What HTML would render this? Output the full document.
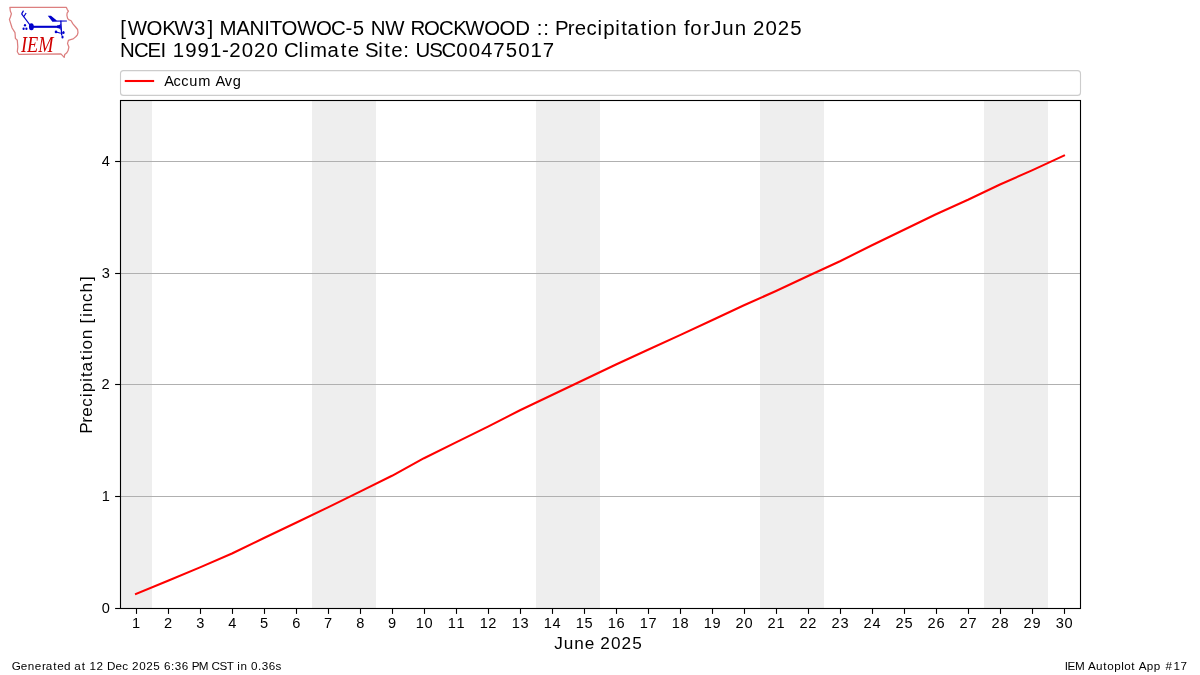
<!DOCTYPE html>
<html><head><meta charset="utf-8"><title>IEM Autoplot 17</title>
<style>
html,body{margin:0;padding:0;background:#fff;}
body{width:1200px;height:675px;overflow:hidden;}
svg{display:block;font-family:"Liberation Sans",sans-serif;will-change:transform;}
</style></head>
<body>
<svg width="1200" height="675" viewBox="0 0 1200 675">
<rect x="0" y="0" width="1200" height="675" fill="#ffffff"/>
<g id="logo">
<path d="M9.9,7.4 L66.4,7.4 L67.3,9.6 L68.4,11.2 L67.1,13.2 L66.9,15.4 L67.6,18.4 L68.6,19.6 L71.1,20.8 L72.9,23.9 L75.6,27 L77.6,29.5 L78,32.5 L77.4,34.8 L76,36.5 L73.2,38.9 L70.5,39.6 L68.4,40.3 L67.5,43.6 L68.9,47 L68,50.8 L66.6,53.1 L64.7,54.6 L64.2,57.4 L60.9,53.8 L18.8,54.3 L17.3,51.7 L17.8,47 L17.3,40.3 L15.4,38.4 L15,32.7 L12.1,28 L9.4,19.4 L10.4,17 L11.4,13.7 L10.3,11 Z" fill="none" stroke="#dc7f7f" stroke-width="1.25" stroke-linejoin="round"/>
<g fill="#0000cc" stroke="#0000cc">
<ellipse cx="31.4" cy="26.8" rx="2.45" ry="3.5" stroke="none"/>
<line x1="31.4" y1="26.8" x2="60.7" y2="26.8" stroke-width="2.1"/>
<path d="M57,25.6 Q60,25.6 60.7,23.5 L60.7,30 Q60,27.9 57,27.9 Z" stroke="none"/>
<line x1="31.4" y1="26.8" x2="21.6" y2="13.9" stroke-width="1.15"/>
<line x1="21.6" y1="13.9" x2="23.5" y2="10.6" stroke-width="1.2"/>
<line x1="23.9" y1="16.5" x2="26.1" y2="13.0" stroke-width="1.2"/>
<ellipse cx="25" cy="25.2" rx="1.1" ry="1.3" stroke="none"/>
<ellipse cx="23.6" cy="28.8" rx="1.1" ry="1.3" stroke="none"/>
<ellipse cx="26.4" cy="28.8" rx="1.1" ry="1.3" stroke="none"/>
<line x1="60.8" y1="20.6" x2="61.7" y2="35.5" stroke-width="1.3"/>
<path d="M47.8,15.7 L51,15.7 L56.8,20.4 L66.8,20.6 L67,21.6 L52.4,21.8 Z" stroke="none"/>
<line x1="56.1" y1="32" x2="60.8" y2="33.3" stroke-width="1.1"/>
<ellipse cx="56" cy="31.9" rx="1.3" ry="1.4" stroke="none"/>
<ellipse cx="63.5" cy="32.6" rx="1.1" ry="1.5" stroke="none"/>
<ellipse cx="62.5" cy="37" rx="1.1" ry="1.5" stroke="none"/>
<line x1="61.2" y1="33.6" x2="63.3" y2="32.6" stroke-width="1"/>
</g>
<text x="21" y="51.7" font-family="Liberation Serif" font-style="italic" font-size="22.7" fill="#d00000" textLength="32.5" lengthAdjust="spacingAndGlyphs">IEM</text>
</g>
<g fill="#000">
<text transform="translate(120.10,35.00)" x="0.20 7.56 26.53 42.12 54.15 73.93 87.48 93.36 99.43 116.15 129.51 144.19 149.60 161.49 177.05 196.02 210.91 225.29 232.63 244.57 250.65 265.27 284.52 290.39 303.93 318.82 333.09 345.12 364.09 379.40 395.13 409.96 416.58 423.13 429.24 434.80 447.78 454.71 466.34 477.47 483.04 495.21 501.09 507.34 520.63 527.78 533.01 545.16 556.95 563.97 570.26 582.85 589.87 591.18 602.23 614.64 626.43 632.86 645.49 657.60 670.15" y="0" font-size="20.42">[WOKW3] MANITOWOC-5 NW ROCKWOOD :: Precipitation for Jun 2025</text>
<text transform="translate(120.10,56.60)" x="-0.10 13.85 27.39 40.44 46.14 52.72 65.14 77.51 89.83 101.91 109.07 121.70 133.81 146.44 158.31 163.79 178.50 183.91 189.89 207.36 220.65 227.69 239.31 244.96 258.28 264.16 271.20 283.27 289.37 295.30 309.25 321.43 336.21 348.58 360.95 373.28 385.62 398.06 410.33 422.76" y="0" font-size="20.42">NCEI 1991-2020 Climate Site: USC00475017</text>
</g>
<rect x="120.5" y="70.6" width="960" height="24.8" rx="3" ry="3" fill="#fff" stroke="#cccccc" stroke-width="1.11"/>
<line x1="125.8" y1="81" x2="153.1" y2="81" stroke="#ff0000" stroke-width="2.08" stroke-linecap="square"/>
<text transform="translate(164.30,85.75)" x="-0.12 9.26 16.90 24.85 34.06 46.86 51.16 60.43 68.45" y="0" font-size="14.58">Accum Avg</text>
<rect x="120" y="100.5" width="960" height="508" fill="#fff"/>
<rect x="120.5" y="100.5" width="31.5" height="508" fill="#eeeeee"/>
<rect x="312.0" y="100.5" width="64.0" height="508" fill="#eeeeee"/>
<rect x="536.0" y="100.5" width="64.0" height="508" fill="#eeeeee"/>
<rect x="760.0" y="100.5" width="64.0" height="508" fill="#eeeeee"/>
<rect x="984.0" y="100.5" width="64.0" height="508" fill="#eeeeee"/>
<line x1="120" y1="161.5" x2="1080" y2="161.5" stroke="#b0b0b0" stroke-width="1.11"/>
<line x1="120" y1="273.5" x2="1080" y2="273.5" stroke="#b0b0b0" stroke-width="1.11"/>
<line x1="120" y1="384.5" x2="1080" y2="384.5" stroke="#b0b0b0" stroke-width="1.11"/>
<line x1="120" y1="496.5" x2="1080" y2="496.5" stroke="#b0b0b0" stroke-width="1.11"/>
<polyline points="136.0,594.0 168.0,580.8 200.0,567.4 232.0,553.5 264.0,538.0 296.0,522.7 328.0,507.4 360.0,491.6 392.0,475.8 424.0,458.2 456.0,442.4 488.0,426.6 520.0,410.2 552.0,395.0 584.0,379.8 616.0,364.5 648.0,349.8 680.0,335.1 712.0,320.3 744.0,305.3 776.0,291.0 808.0,276.0 840.0,261.2 872.0,245.3 904.0,229.8 936.0,214.2 968.0,199.8 1000.0,184.5 1032.0,170.4 1064.0,155.6" fill="none" stroke="#ff0000" stroke-width="2.08" stroke-linejoin="round" stroke-linecap="square"/>
<rect x="120.5" y="100.5" width="960" height="508" fill="none" stroke="#000" stroke-width="1.11"/>
<line x1="136.5" y1="608.5" x2="136.5" y2="613.9" stroke="#000" stroke-width="1.11"/>
<line x1="168.5" y1="608.5" x2="168.5" y2="613.9" stroke="#000" stroke-width="1.11"/>
<line x1="200.5" y1="608.5" x2="200.5" y2="613.9" stroke="#000" stroke-width="1.11"/>
<line x1="232.5" y1="608.5" x2="232.5" y2="613.9" stroke="#000" stroke-width="1.11"/>
<line x1="264.5" y1="608.5" x2="264.5" y2="613.9" stroke="#000" stroke-width="1.11"/>
<line x1="296.5" y1="608.5" x2="296.5" y2="613.9" stroke="#000" stroke-width="1.11"/>
<line x1="328.5" y1="608.5" x2="328.5" y2="613.9" stroke="#000" stroke-width="1.11"/>
<line x1="360.5" y1="608.5" x2="360.5" y2="613.9" stroke="#000" stroke-width="1.11"/>
<line x1="392.5" y1="608.5" x2="392.5" y2="613.9" stroke="#000" stroke-width="1.11"/>
<line x1="424.5" y1="608.5" x2="424.5" y2="613.9" stroke="#000" stroke-width="1.11"/>
<line x1="456.5" y1="608.5" x2="456.5" y2="613.9" stroke="#000" stroke-width="1.11"/>
<line x1="488.5" y1="608.5" x2="488.5" y2="613.9" stroke="#000" stroke-width="1.11"/>
<line x1="520.5" y1="608.5" x2="520.5" y2="613.9" stroke="#000" stroke-width="1.11"/>
<line x1="552.5" y1="608.5" x2="552.5" y2="613.9" stroke="#000" stroke-width="1.11"/>
<line x1="584.5" y1="608.5" x2="584.5" y2="613.9" stroke="#000" stroke-width="1.11"/>
<line x1="616.5" y1="608.5" x2="616.5" y2="613.9" stroke="#000" stroke-width="1.11"/>
<line x1="648.5" y1="608.5" x2="648.5" y2="613.9" stroke="#000" stroke-width="1.11"/>
<line x1="680.5" y1="608.5" x2="680.5" y2="613.9" stroke="#000" stroke-width="1.11"/>
<line x1="712.5" y1="608.5" x2="712.5" y2="613.9" stroke="#000" stroke-width="1.11"/>
<line x1="744.5" y1="608.5" x2="744.5" y2="613.9" stroke="#000" stroke-width="1.11"/>
<line x1="776.5" y1="608.5" x2="776.5" y2="613.9" stroke="#000" stroke-width="1.11"/>
<line x1="808.5" y1="608.5" x2="808.5" y2="613.9" stroke="#000" stroke-width="1.11"/>
<line x1="840.5" y1="608.5" x2="840.5" y2="613.9" stroke="#000" stroke-width="1.11"/>
<line x1="872.5" y1="608.5" x2="872.5" y2="613.9" stroke="#000" stroke-width="1.11"/>
<line x1="904.5" y1="608.5" x2="904.5" y2="613.9" stroke="#000" stroke-width="1.11"/>
<line x1="936.5" y1="608.5" x2="936.5" y2="613.9" stroke="#000" stroke-width="1.11"/>
<line x1="968.5" y1="608.5" x2="968.5" y2="613.9" stroke="#000" stroke-width="1.11"/>
<line x1="1000.5" y1="608.5" x2="1000.5" y2="613.9" stroke="#000" stroke-width="1.11"/>
<line x1="1032.5" y1="608.5" x2="1032.5" y2="613.9" stroke="#000" stroke-width="1.11"/>
<line x1="1064.5" y1="608.5" x2="1064.5" y2="613.9" stroke="#000" stroke-width="1.11"/>
<line x1="115.1" y1="161.5" x2="120.5" y2="161.5" stroke="#000" stroke-width="1.11"/>
<line x1="115.1" y1="273.5" x2="120.5" y2="273.5" stroke="#000" stroke-width="1.11"/>
<line x1="115.1" y1="384.5" x2="120.5" y2="384.5" stroke="#000" stroke-width="1.11"/>
<line x1="115.1" y1="496.5" x2="120.5" y2="496.5" stroke="#000" stroke-width="1.11"/>
<line x1="115.1" y1="608.5" x2="120.5" y2="608.5" stroke="#000" stroke-width="1.11"/>
<g fill="#000">
<text transform="translate(136.20,628.00)" x="-4.13" y="0" font-size="14.58">1</text>
<text transform="translate(168.20,628.00)" x="-4.24" y="0" font-size="14.58">2</text>
<text transform="translate(200.20,628.00)" x="-4.04" y="0" font-size="14.58">3</text>
<text transform="translate(232.20,628.00)" x="-4.06" y="0" font-size="14.58">4</text>
<text transform="translate(264.20,628.00)" x="-4.11" y="0" font-size="14.58">5</text>
<text transform="translate(296.20,628.00)" x="-4.06" y="0" font-size="14.58">6</text>
<text transform="translate(328.20,628.00)" x="-4.09" y="0" font-size="14.58">7</text>
<text transform="translate(360.20,628.00)" x="-4.06" y="0" font-size="14.58">8</text>
<text transform="translate(392.20,628.00)" x="-4.10" y="0" font-size="14.58">9</text>
<text transform="translate(424.20,628.00)" x="-8.55 0.36" y="0" font-size="14.58">10</text>
<text transform="translate(456.20,628.00)" x="-8.55 0.29" y="0" font-size="14.58">11</text>
<text transform="translate(488.20,628.00)" x="-8.55 0.18" y="0" font-size="14.58">12</text>
<text transform="translate(520.20,628.00)" x="-8.55 0.38" y="0" font-size="14.58">13</text>
<text transform="translate(552.20,628.00)" x="-8.55 0.36" y="0" font-size="14.58">14</text>
<text transform="translate(584.20,628.00)" x="-8.55 0.31" y="0" font-size="14.58">15</text>
<text transform="translate(616.20,628.00)" x="-8.55 0.36" y="0" font-size="14.58">16</text>
<text transform="translate(648.20,628.00)" x="-8.55 0.33" y="0" font-size="14.58">17</text>
<text transform="translate(680.20,628.00)" x="-8.55 0.36" y="0" font-size="14.58">18</text>
<text transform="translate(712.20,628.00)" x="-8.55 0.32" y="0" font-size="14.58">19</text>
<text transform="translate(744.20,628.00)" x="-8.66 0.36" y="0" font-size="14.58">20</text>
<text transform="translate(776.20,628.00)" x="-8.66 0.29" y="0" font-size="14.58">21</text>
<text transform="translate(808.20,628.00)" x="-8.66 0.18" y="0" font-size="14.58">22</text>
<text transform="translate(840.20,628.00)" x="-8.66 0.38" y="0" font-size="14.58">23</text>
<text transform="translate(872.20,628.00)" x="-8.66 0.36" y="0" font-size="14.58">24</text>
<text transform="translate(904.20,628.00)" x="-8.66 0.31" y="0" font-size="14.58">25</text>
<text transform="translate(936.20,628.00)" x="-8.66 0.36" y="0" font-size="14.58">26</text>
<text transform="translate(968.20,628.00)" x="-8.66 0.33" y="0" font-size="14.58">27</text>
<text transform="translate(1000.20,628.00)" x="-8.66 0.36" y="0" font-size="14.58">28</text>
<text transform="translate(1032.20,628.00)" x="-8.66 0.32" y="0" font-size="14.58">29</text>
<text transform="translate(1064.20,628.00)" x="-8.46 0.36" y="0" font-size="14.58">30</text>
<text transform="translate(110.20,166.40)" x="-8.48" y="0" font-size="14.58">4</text>
<text transform="translate(110.20,278.40)" x="-8.46" y="0" font-size="14.58">3</text>
<text transform="translate(110.20,389.40)" x="-8.66" y="0" font-size="14.58">2</text>
<text transform="translate(110.20,501.40)" x="-8.55" y="0" font-size="14.58">1</text>
<text transform="translate(110.20,613.40)" x="-8.48" y="0" font-size="14.58">0</text>
<text transform="translate(600.30,648.75)" x="-46.03 -36.62 -25.98 -15.58 -5.71 -0.11 10.72 21.10 31.86" y="0" font-size="17.17">June 2025</text>
<text transform="translate(91.90,354.60) rotate(-90)" x="-79.12 -68.05 -62.07 -52.11 -42.62 -37.78 -27.41 -22.36 -16.95 -5.61 0.50 5.04 15.46 25.48 31.00 37.69 42.45 52.57 62.15 73.70" y="0" font-size="17.17">Precipitation [inch]</text>
<text transform="translate(12.00,670.00)" x="-0.23 8.81 15.75 22.68 29.88 33.63 41.23 45.25 52.11 58.95 62.22 69.81 73.64 77.40 84.39 91.31 94.93 103.60 110.24 116.35 120.02 127.23 134.16 141.33 148.15 151.97 159.01 162.80 169.86 176.64 179.81 186.81 196.46 199.59 207.44 214.63 221.59 225.37 228.50 235.25 239.07 245.99 249.68 256.74 263.57" y="0" font-size="11.67">Generated at 12 Dec 2025 6:36 PM CST in 0.36s</text>
<text transform="translate(1187.40,670.00)" x="-122.71 -119.87 -112.49 -102.84 -99.40 -91.46 -84.14 -80.15 -73.16 -66.21 -63.22 -56.05 -52.22 -48.78 -40.73 -33.68 -26.98 -22.03 -13.91 -6.80" y="0" font-size="11.67">IEM Autoplot App #17</text>
</g>
</svg>
</body></html>
